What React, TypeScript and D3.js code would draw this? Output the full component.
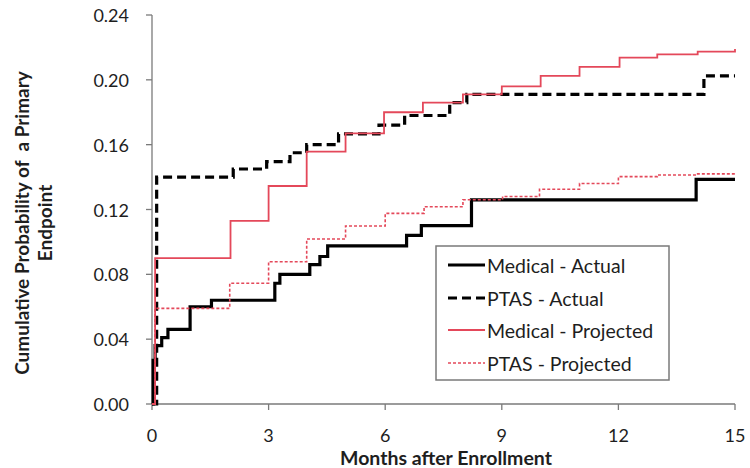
import React from "react";
import * as d3 from "d3";

const xTicks = [0, 3, 6, 9, 12, 15];
const yTicks = [0, 0.04, 0.08, 0.12, 0.16, 0.2, 0.24];

const medActualT = [0, 0.03, 0.08, 0.25, 0.41, 0.98, 1.53, 3.16, 3.29, 4.06, 4.32, 4.52, 6.55, 6.93, 8.22, 14.0, 15];
const medActualV = [0, 0.027, 0.036, 0.041, 0.046, 0.06, 0.064, 0.0745, 0.08, 0.086, 0.091, 0.0975, 0.104, 0.11, 0.126, 0.1386, 0.1386];

const ptasActualT = [0, 0.12, 2.09, 2.95, 3.55, 3.98, 4.8, 5.84, 6.5, 7.66, 8.1, 14.2, 15];
const ptasActualV = [0, 0.14, 0.145, 0.1495, 0.155, 0.16, 0.1666, 0.172, 0.178, 0.186, 0.191, 0.2024, 0.2024];

const medProjT = [0, 0.08, 2.02, 3.0, 3.98, 4.98, 5.97, 6.97, 8.0, 9.0, 10.0, 11.0, 12.03, 13.0, 14.04, 15];
const medProjV = [0, 0.09, 0.113, 0.1345, 0.1557, 0.167, 0.18, 0.186, 0.191, 0.196, 0.2024, 0.208, 0.2137, 0.2157, 0.2174, 0.219];

const ptasProjT = [0, 0.08, 2.0, 3.0, 3.98, 4.98, 6.0, 7.0, 8.0, 9.02, 9.97, 11.0, 12.0, 13.0, 14.0, 15];
const ptasProjV = [0, 0.059, 0.0745, 0.0878, 0.1018, 0.1098, 0.1176, 0.1217, 0.126, 0.128, 0.1325, 0.136, 0.1403, 0.1413, 0.142, 0.1427];

const RED = "#e4485a";
const AXIS = "#7a7a7a";
const TEXT = "#1e1e1e";
const FONT = "Lato, 'Open Sans', sans-serif";

const series = [
  { name: "Medical - Actual", t: medActualT, v: medActualV, color: "#000", width: 3.2, dash: "" },
  { name: "PTAS - Actual", t: ptasActualT, v: ptasActualV, color: "#000", width: 3.2, dash: "9,5" },
  { name: "Medical - Projected", t: medProjT, v: medProjV, color: RED, width: 1.8, dash: "" },
  { name: "PTAS - Projected", t: ptasProjT, v: ptasProjV, color: RED, width: 1.6, dash: "3,2" },
];

export default function App() {
  const left = 152, right = 735, top = 15, bottom = 404;
  const x = d3.scaleLinear().domain([0, 15]).range([left, right]);
  const y = d3.scaleLinear().domain([0, 0.24]).range([bottom, top]);
  const line = d3
    .line<[number, number]>()
    .x((d) => x(d[0]))
    .y((d) => y(d[1]))
    .curve(d3.curveStepAfter);

  const legendRows = [265, 298, 330, 363];

  return (
    <svg
      width={750}
      height={468}
      style={{ position: "absolute", left: 0, top: 0, background: "#fff" }}
      fontFamily={FONT}
    >
      <rect x={0} y={0} width={750} height={468} fill="#fff" />
      {/* axes */}
      <line x1={left} x2={left} y1={top} y2={bottom} stroke={AXIS} strokeWidth={1.3} />
      <line x1={left} x2={right} y1={bottom} y2={bottom} stroke={AXIS} strokeWidth={1.3} />
      {yTicks.map((t) => (
        <g key={"y" + t}>
          <line x1={left - 6} x2={left} y1={y(t)} y2={y(t)} stroke={AXIS} strokeWidth={1.3} />
          <text x={129} y={y(t)} textAnchor="end" dominantBaseline="central" fontSize={18} fill={TEXT}>
            {t.toFixed(2)}
          </text>
        </g>
      ))}
      {xTicks.map((t) => (
        <g key={"x" + t}>
          <line x1={x(t)} x2={x(t)} y1={bottom} y2={bottom + 6} stroke={AXIS} strokeWidth={1.3} />
          <text x={x(t)} y={442} textAnchor="middle" fontSize={18} fill={TEXT}>
            {t}
          </text>
        </g>
      ))}
      <text x={446} y={465} textAnchor="middle" fontSize={19.5} fontWeight="bold" fill={TEXT}>
        Months after Enrollment
      </text>
      <g transform="translate(0,223) rotate(-90)">
        <text x={0} y={29} textAnchor="middle" fontSize={19} fontWeight="bold" fill={TEXT} style={{ whiteSpace: "pre" }}>
          {"Cumulative Probability of  a Primary"}
        </text>
        <text x={0} y={52} textAnchor="middle" fontSize={19} fontWeight="bold" fill={TEXT}>
          Endpoint
        </text>
      </g>
      {/* series */}
      {series.map((s) => (
        <path
          key={s.name}
          d={line(s.t.map((t, i) => [t, s.v[i]] as [number, number])) || ""}
          fill="none"
          stroke={s.color}
          strokeWidth={s.width}
          strokeDasharray={s.dash}
        />
      ))}
      {/* legend */}
      <rect x={436} y={246} width={233} height={134} fill="#fff" stroke={AXIS} strokeWidth={1.5} />
      {series.map((s, i) => (
        <g key={"lg" + s.name}>
          <line
            x1={448}
            x2={485}
            y1={legendRows[i]}
            y2={legendRows[i]}
            stroke={s.color}
            strokeWidth={s.width}
            strokeDasharray={s.dash}
          />
          <text x={487} y={legendRows[i]} dominantBaseline="central" fontSize={19.5} fill={TEXT}>
            {s.name}
          </text>
        </g>
      ))}
    </svg>
  );
}
